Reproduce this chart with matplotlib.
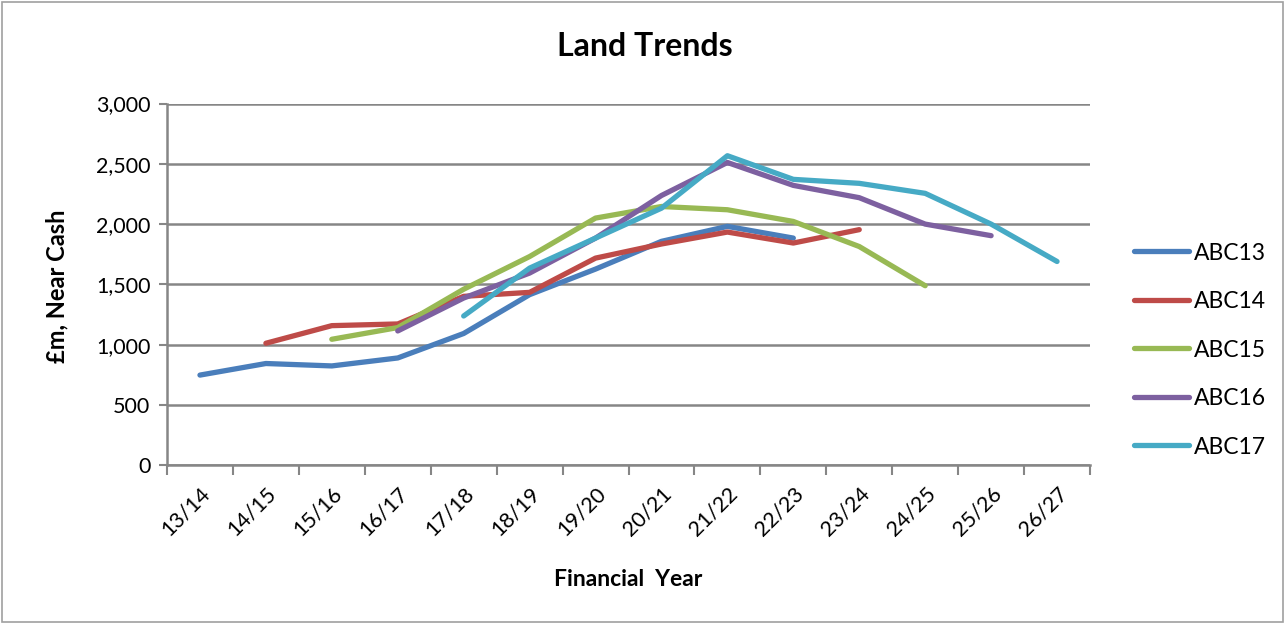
import numpy as np
import matplotlib
matplotlib.use("Agg")
import matplotlib.pyplot as plt
from matplotlib.patches import Rectangle

plt.rcParams['font.family'] = ['Lato', 'DejaVu Sans']

years = ["13/14", "14/15", "15/16", "16/17", "17/18", "18/19", "19/20",
         "20/21", "21/22", "22/23", "23/24", "24/25", "25/26", "26/27"]
N = None
abc13 = [748, 844, 824, 890, 1093, 1415, 1627, 1857, 1981, 1884, N, N, N, N]
abc14 = [N, 1012, 1158, 1172, 1401, 1434, 1718, 1835, 1934, 1843, 1954, N, N, N]
abc15 = [N, N, 1045, 1142, 1460, 1731, 2050, 2146, 2119, 2022, 1814, 1489, N, N]
abc16 = [N, N, N, 1114, 1387, 1594, 1884, 2237, 2511, 2321, 2219, 2000, 1904, N]
abc17 = [N, N, N, N, 1238, 1635, 1884, 2132, 2567, 2371, 2338, 2255, 2000, 1690]
series_names = ["ABC13", "ABC14", "ABC15", "ABC16", "ABC17"]
colors = ["#4A7EBB", "#BE4B48", "#98B954", "#7D60A0", "#46AAC5"]
y_ticks = [0, 500, 1000, 1500, 2000, 2500, 3000]
y_ticklabels = ["0", "500", "1,000", "1,500", "2,000", "2,500", "3,000"]

fig = plt.figure(figsize=(12.87, 6.26), dpi=100)
ax = fig.add_axes([167/1287, 1-465.3/626, (1090-167)/1287, (465.3-103.5)/626])

x = np.arange(len(years))
for name, vals, c in zip(series_names, [abc13, abc14, abc15, abc16, abc17], colors):
    v = np.array([np.nan if a is None else a for a in vals], dtype=float)
    ax.plot(x, v, color=c, lw=3.8, solid_capstyle='round', solid_joinstyle='round', label=name, zorder=3)

ax.set_xlim(-0.5, len(years) - 0.5)
ax.set_ylim(0, 3000)
ax.set_yticks(y_ticks)
ax.set_yticklabels(y_ticklabels, fontsize=15.5)
ax.yaxis.grid(True, color="#868686", lw=1.8, zorder=0)
ax.set_axisbelow(True)

ax.set_xticks(x)
ax.set_xticklabels(years, rotation=45, ha='right', rotation_mode='anchor', fontsize=15.5)
ax.tick_params(axis='x', length=0, pad=13)
ax.set_xticks(np.arange(-0.5, len(years)), minor=True)
ax.tick_params(axis='x', which='minor', length=7, width=1.5, color="#868686")
ax.tick_params(axis='y', length=6, width=1.5, color="#868686", pad=6)

for s in ['top', 'right']:
    ax.spines[s].set_visible(False)
for s in ['left', 'bottom']:
    ax.spines[s].set_color("#868686")
    ax.spines[s].set_linewidth(1.8)

fig.text(645/1287, 1-47/626, "Land Trends", ha='center', va='center', fontsize=23, fontweight='bold')
fig.text(628/1287, 1-579/626, "Financial  Year", ha='center', va='center', fontsize=16.5, fontweight='bold')
fig.text(57/1287, 1-286/626, "£m, Near Cash", ha='center', va='center', rotation=90, fontsize=17, fontweight='bold')

leg = fig.legend(loc='center left', bbox_to_anchor=(1113/1287, 1-350/626), frameon=False,
                 fontsize=16.5, handlelength=2.4, handletextpad=0.25, labelspacing=1.2)

fig.patches.append(Rectangle((2/1287, 4/626), 1281/1287, 620/626, transform=fig.transFigure,
                             fill=False, edgecolor="#A0A0A0", lw=1.2))

fig.savefig("out.png", dpi=100)
